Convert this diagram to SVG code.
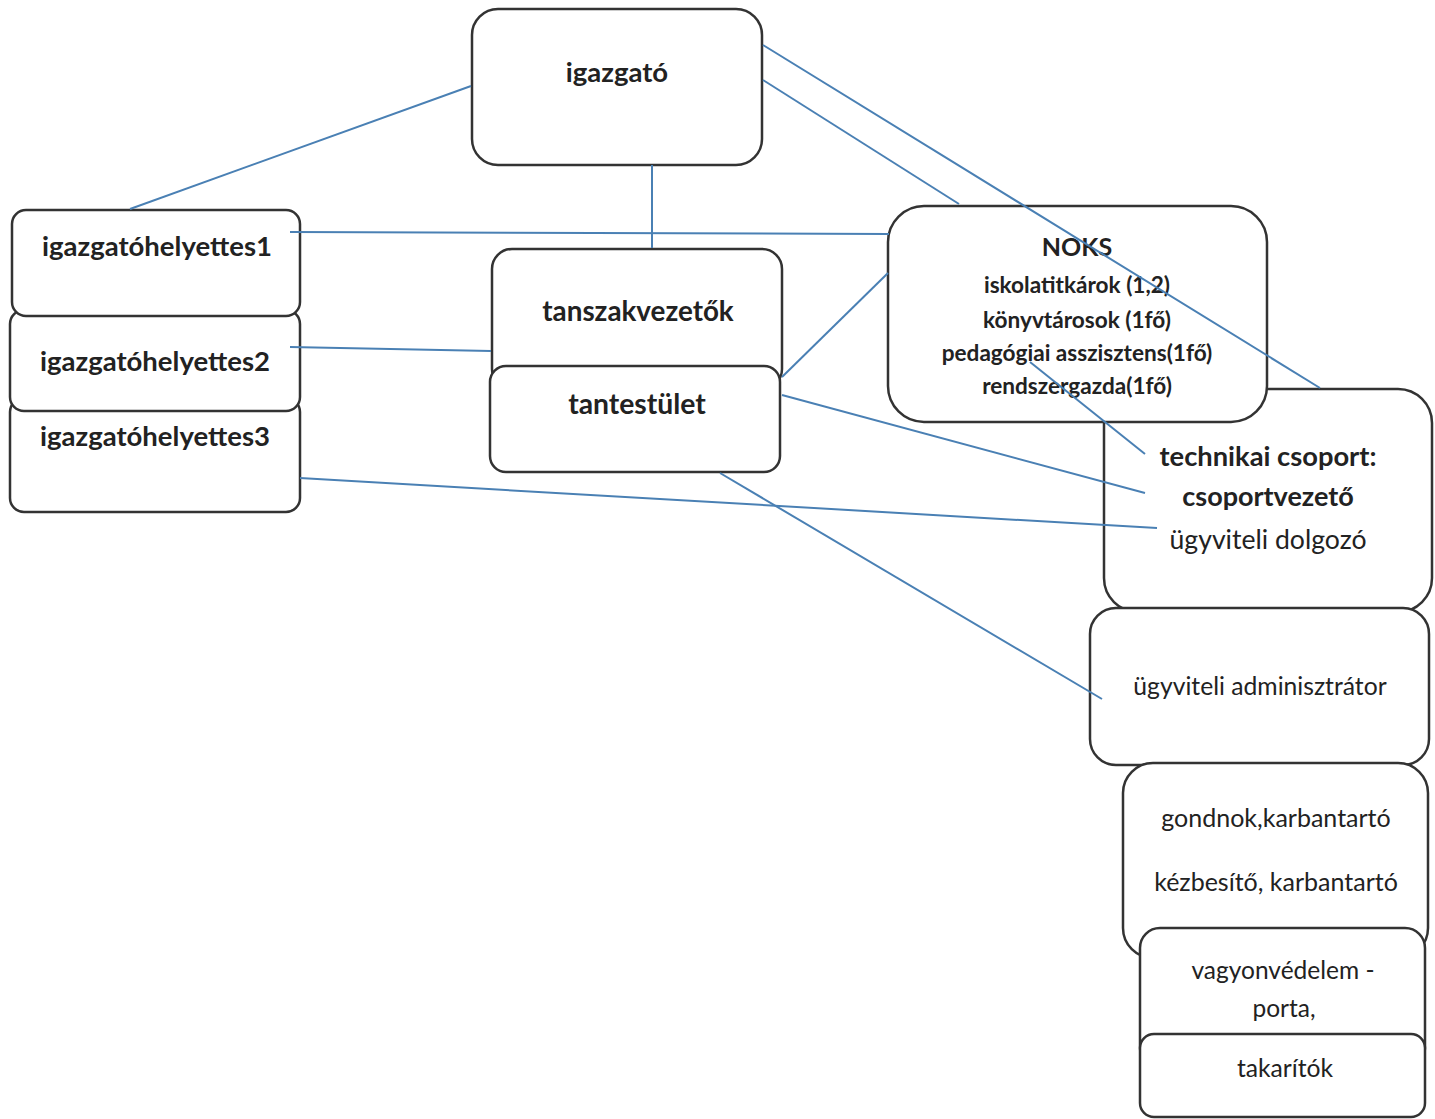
<svg xmlns="http://www.w3.org/2000/svg" width="1435" height="1119" viewBox="0 0 1435 1119">
<style>
.box{fill:#fff;stroke:#333;stroke-width:2.5}
.t{font-family:Lato,"Liberation Sans",sans-serif;fill:#222;text-anchor:middle}
.b{font-weight:bold}
.c line{stroke:#4a80b4;stroke-width:2}
</style>
<rect width="1435" height="1119" fill="#fff"/>
<g id="igazgato"><rect class="box" x="472" y="9" width="290" height="156" rx="26"/><text class="t b" x="617" y="82" font-size="27.5">igazgató</text></g>
<g id="igh3"><rect class="box" x="10" y="398" width="290" height="114" rx="14"/><text class="t b" x="155" y="446" font-size="27.5">igazgatóhelyettes3</text></g>
<g id="igh2"><rect class="box" x="10" y="310" width="290" height="101" rx="14"/><text class="t b" x="155" y="371" font-size="27.5">igazgatóhelyettes2</text></g>
<g id="igh1"><rect class="box" x="12" y="210" width="288" height="106" rx="14"/><text class="t b" x="157" y="256" font-size="27.5">igazgatóhelyettes1</text></g>
<g id="tanszakvezetok"><rect class="box" x="492" y="249" width="290" height="140" rx="20"/><text class="t b" x="638" y="321" font-size="27.8">tanszakvezetők</text></g>
<g id="tantestulet"><rect class="box" x="490" y="366" width="290" height="106" rx="16"/><text class="t b" x="637" y="414" font-size="28.3">tantestület</text></g>
<g id="technikai"><rect class="box" x="1104" y="389" width="328" height="223" rx="34"/><text class="t b" x="1268" y="466" font-size="27.3">technikai csoport:</text><text class="t b" x="1268" y="506" font-size="27">csoportvezető</text><text class="t" x="1268" y="549" font-size="26.6">ügyviteli dolgozó</text></g>
<g id="noks"><rect class="box" x="888" y="206" width="379" height="216" rx="36"/><text class="t b" x="1077" y="256" font-size="25">NOKS</text><text class="t b" x="1077" y="293" font-size="22.6">iskolatitkárok (1,2)</text><text class="t b" x="1077" y="328" font-size="22.6">könyvtárosok (1fő)</text><text class="t b" x="1077" y="361" font-size="22.6">pedagógiai asszisztens(1fő)</text><text class="t b" x="1077" y="394" font-size="22.6">rendszergazda(1fő)</text></g>
<g id="adminisztrator"><rect class="box" x="1090" y="608" width="339" height="157" rx="26"/><text class="t" x="1260" y="695" font-size="24.7">ügyviteli adminisztrátor</text></g>
<g id="gondnok"><rect class="box" x="1123" y="763" width="305" height="195" rx="30"/><text class="t" x="1276" y="827" font-size="25">gondnok,karbantartó</text><text class="t" x="1276" y="891" font-size="25">kézbesítő, karbantartó</text></g>
<g id="vagyonvedelem"><rect class="box" x="1140" y="928" width="285" height="140" rx="20"/><text class="t" x="1283" y="979" font-size="24.5">vagyonvédelem -</text><text class="t" x="1284" y="1017" font-size="24.5">porta,</text></g>
<g id="takaritok"><rect class="box" x="1140" y="1034" width="285" height="83" rx="14"/><text class="t" x="1285" y="1077" font-size="24.7">takarítók</text></g>
<g class="c" id="connectors">
<line x1="471" y1="86" x2="130" y2="209"/>
<line x1="652" y1="165" x2="652" y2="248"/>
<line x1="763" y1="80" x2="959" y2="204"/>
<line x1="763" y1="45" x2="1320" y2="388"/>
<line x1="290" y1="232" x2="889" y2="234"/>
<line x1="290" y1="347" x2="491" y2="351"/>
<line x1="300" y1="478" x2="1157" y2="528"/>
<line x1="782" y1="377" x2="888" y2="273"/>
<line x1="782" y1="395" x2="1145" y2="493"/>
<line x1="720" y1="473" x2="1102" y2="699"/>
<line x1="1030" y1="362" x2="1145" y2="454"/>
</g>
</svg>
